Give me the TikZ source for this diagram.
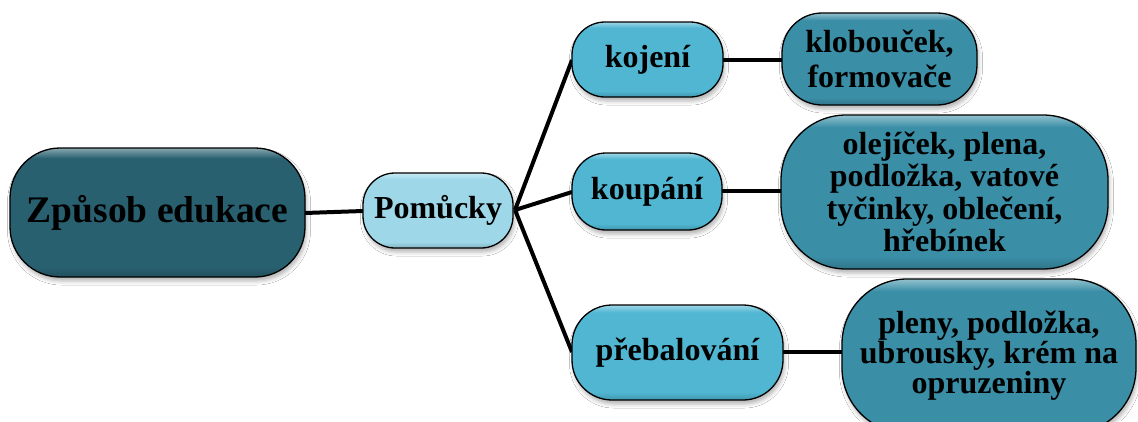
\documentclass[tikz,border=0pt]{standalone}
\usepackage{fontspec}
\setmainfont{Liberation Serif}
\usetikzlibrary{shadows.blur}

\definecolor{rootfill}{HTML}{296070}
\definecolor{hubfill}{HTML}{9ED8E8}
\definecolor{midfill}{HTML}{50B6D2}
\definecolor{leaffill}{HTML}{3A8EA6}

% vertical shading: flat body, light rim at the top, slightly darker base
\newcommand\boxshade[2]{%
  \pgfdeclareverticalshading{#1}{100bp}{%
    color(0bp)=(#2!82!black); color(25bp)=(#2!82!black);
    color(29bp)=(#2); color(71bp)=(#2);
    color(75bp)=(#2!55!white); color(100bp)=(#2!55!white)}}
\boxshade{rootshade}{rootfill}
\boxshade{hubshade}{hubfill}
\boxshade{midshade}{midfill}
\boxshade{leafshade}{leaffill}

\tikzset{
  pill/.style={draw=black, line width=1.3pt, align=center, inner sep=0pt,
    font=\bfseries\fontsize{32}{34}\selectfont,
    blur shadow={shadow xshift=1.5pt, shadow yshift=-4pt,
      shadow blur radius=4pt, shadow opacity=30}},
  rootbox/.style={pill, shading=rootshade, rounded corners=50pt,
    font=\bfseries\fontsize{37.5}{40}\selectfont},
  hubbox/.style={pill, shading=hubshade, rounded corners=32pt},
  midbox/.style={pill, shading=midshade},
  leafbox/.style={pill, shading=leafshade},
  link/.style={line width=4pt, black}
}

\begin{document}
\begin{tikzpicture}[x=1pt, y=-1pt]
  \useasboundingbox[fill=white] (0,0) rectangle (1138,421);

  % connectors first, boxes on top
  \coordinate (zE) at (305,213);
  \coordinate (pW) at (363,211);
  \coordinate (pE) at (515,210);
  \coordinate (kjW) at (572,60);
  \coordinate (kpW) at (572,192);
  \coordinate (prW) at (572,352);
  \draw[link] (zE) -- (pW);
  \draw[link] (pE) -- (kjW);
  \draw[link] (pE) -- (kpW);
  \draw[link] (pE) -- (prW);
  \coordinate (kjE) at (723,60);
  \coordinate (klW) at (782,60);
  \coordinate (kpE) at (722,191);
  \coordinate (olW) at (781,191);
  \coordinate (prE) at (783,352);
  \coordinate (plW) at (842,352);
  \draw[link] (kjE) -- (klW);
  \draw[link] (kpE) -- (olW);
  \draw[link] (prE) -- (plW);

  % root
  \node[rootbox, minimum width=295pt, minimum height=129pt]
    (zpusob) at (157.5,212.5) {Způsob edukace};
  % hub
  \node[hubbox, minimum width=150pt, minimum height=75pt]
    (pomucky) at (438,210.5) {Pomůcky};
  % middle level
  \node[midbox, rounded corners=33pt, minimum width=151pt, minimum height=75pt]
    (kojeni) at (647.5,59.5) {kojení};
  \node[midbox, rounded corners=34pt, minimum width=150pt, minimum height=77pt]
    (koupani) at (647,191.5) {koupání};
  \node[midbox, rounded corners=40pt, minimum width=211pt, minimum height=95pt]
    (prebal) at (677.5,352.5) {přebalování};
  % leaves
  \node[leafbox, rounded corners=40pt, minimum width=195pt, minimum height=92pt,
    font=\bfseries\fontsize{32}{35}\selectfont]
    (klobo) at (879.5,59) {klobouček,\\formovače};
  \node[leafbox, rounded corners=65pt, minimum width=327pt, minimum height=154pt,
    font=\bfseries\fontsize{32}{32.5}\selectfont]
    (olej) at (944.5,192) {olejíček, plena,\\podložka, vatové\\tyčinky, oblečení,\\hřebínek};
  \node[leafbox, rounded corners=65pt, minimum width=294pt, minimum height=154pt,
    font=\bfseries\fontsize{32}{30}\selectfont]
    (pleny) at (989,356) {pleny, podložka,\\ubrousky, krém na\\opruzeniny};
\end{tikzpicture}
\end{document}
